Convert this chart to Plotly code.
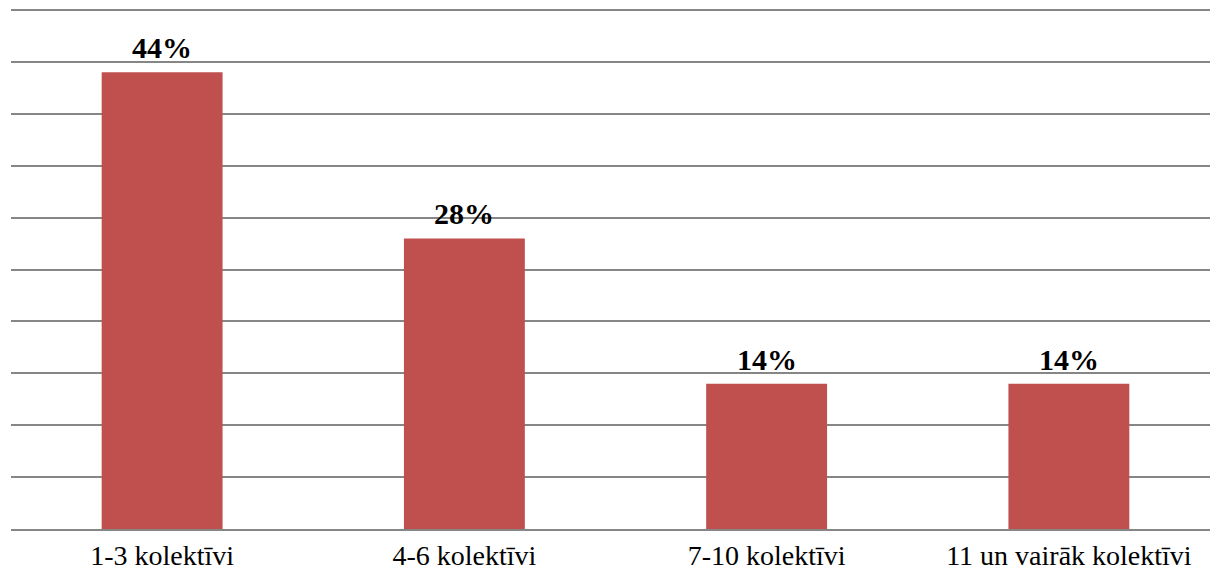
import plotly.graph_objects as go

categories = ["1-3 kolektīvi", "4-6 kolektīvi", "7-10 kolektīvi", "11 un vairāk kolektīvi"]
values = [44, 28, 14, 14]
labels = ["44%", "28%", "14%", "14%"]

fig = go.Figure(go.Bar(
    x=categories, y=values,
    marker=dict(color="#C0504D", line=dict(width=0)),
    width=0.4,
))

for c, v, t in zip(categories, values, labels):
    fig.add_annotation(x=c, y=v, text="<b>" + t + "</b>", showarrow=False,
                       yanchor="bottom", yshift=6,
                       font=dict(family="Liberation Serif", size=30, color="#000000"))

fig.update_layout(
    width=1218, height=578,
    margin=dict(l=3, r=6, t=0, b=57),
    paper_bgcolor="white", plot_bgcolor="white",
    showlegend=False,
    bargap=0.6,
    xaxis=dict(showgrid=False, showline=True, linecolor="#868686", linewidth=2,
               ticks="", tickfont=dict(family="Liberation Serif", size=28, color="#000000")),
    yaxis=dict(range=[0, 50.2], tickvals=[5, 10, 15, 20, 25, 30, 35, 40, 45, 50],
               showgrid=True, gridcolor="#868686", gridwidth=2,
               showticklabels=False, zeroline=False, ticks=""),
)

fig.write_html("out.html")
